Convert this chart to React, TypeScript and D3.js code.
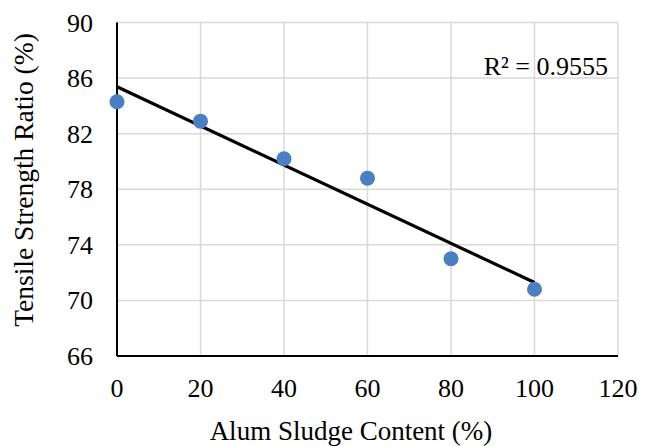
import React from "react";
import * as d3 from "d3";

const sludge = [0, 20, 40, 60, 80, 100];
const tsr = [84.3, 82.9, 80.2, 78.8, 73.0, 70.8];
const xTicks = [0, 20, 40, 60, 80, 100, 120];
const yTicks = [66, 70, 74, 78, 82, 86, 90];
const r2Label = "R² = 0.9555";
const xTitle = "Alum Sludge Content (%)";
const yTitle = "Tensile Strength Ratio (%)";

const W = 656, H = 446;
const M = { left: 117, right: 618, top: 22.5, bottom: 356 };
const FONT = "'Liberation Serif', 'Times New Roman', serif";

export default function App() {
  const x = d3.scaleLinear().domain([0, 120]).range([M.left, M.right]);
  const y = d3.scaleLinear().domain([66, 90]).range([M.bottom, M.top]);

  const mx = d3.mean(sludge)!;
  const my = d3.mean(tsr)!;
  let sxy = 0, sxx = 0;
  sludge.forEach((v, i) => { sxy += (v - mx) * (tsr[i] - my); sxx += (v - mx) ** 2; });
  const slope = sxy / sxx;
  const intercept = my - slope * mx;
  const x0 = d3.min(sludge)!, x1 = d3.max(sludge)!;
  const trend = d3.line<number>().x(d => x(d)).y(d => y(intercept + slope * d))([x0, x1]) || "";

  return (
    <svg width={W} height={H} style={{ position: "absolute", left: 0, top: 0, background: "#fff" }}>
      <rect width={W} height={H} fill="#fff" />
      {xTicks.map(t => (
        <line key={"gx" + t} x1={x(t)} x2={x(t)} y1={M.top} y2={M.bottom} stroke="#d9d9d9" strokeWidth={1.5} />
      ))}
      {yTicks.map(t => (
        <line key={"gy" + t} x1={M.left} x2={M.right} y1={y(t)} y2={y(t)} stroke="#d9d9d9" strokeWidth={1.5} />
      ))}
      <line x1={M.left} x2={M.left} y1={M.top} y2={M.bottom} stroke="#000" strokeWidth={2} />
      <line x1={M.left} x2={M.right} y1={M.bottom} y2={M.bottom} stroke="#000" strokeWidth={2} />
      {yTicks.map(t => (
        <text key={"ty" + t} x={93} y={y(t) + 9} textAnchor="end" fontFamily={FONT} fontSize={26} fill="#000">{t}</text>
      ))}
      {xTicks.map(t => (
        <text key={"tx" + t} x={x(t)} y={397} textAnchor="middle" fontFamily={FONT} fontSize={26} fill="#000">{t}</text>
      ))}
      <path d={trend} stroke="#000" strokeWidth={3.2} fill="none" />
      {sludge.map((v, i) => (
        <circle key={"p" + i} cx={x(v)} cy={y(tsr[i])} r={7.5} fill="#4a7fc1" />
      ))}
      <text x={608} y={75} textAnchor="end" fontFamily={FONT} fontSize={26} fill="#000">{r2Label}</text>
      <text x={351} y={440} textAnchor="middle" fontFamily={FONT} fontSize={27} fill="#000">{xTitle}</text>
      <text transform={`translate(33,180) rotate(-90)`} textAnchor="middle" fontFamily={FONT} fontSize={27.5} fill="#000">{yTitle}</text>
    </svg>
  );
}
